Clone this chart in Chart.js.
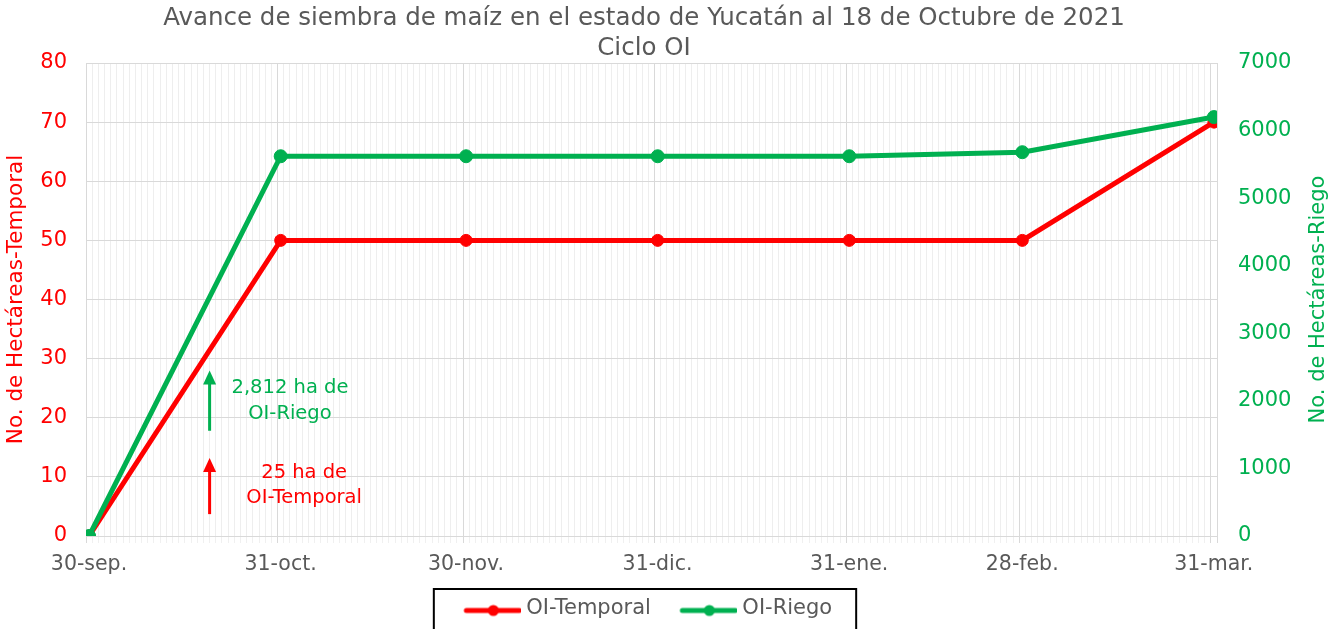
<!DOCTYPE html>
<html>
<head>
<meta charset="utf-8">
<script src="https://cdn.jsdelivr.net/npm/chart.js@4.4.0/dist/chart.umd.min.js"></script>
<style>
html, body { margin: 0; padding: 0; background: #fff; }
#wrap { width: 1342px; height: 629px; }
</style>
</head>
<body>
<div id="wrap"><canvas id="chart"></canvas></div>
<script>
// fechas del eje (dias desde el 30-sep) y valores
var dateLabels = ['30-sep.', '31-oct.', '30-nov.', '31-dic.', '31-ene.', '28-feb.', '31-mar.'];
var dayOffsets = [0, 31, 61, 92, 123, 151, 182];
var temporal = [0, 50, 50, 50, 50, 50, 70];
var riego = [0, 5620, 5620, 5620, 5620, 5680, 6200];
var leftTicks = [0, 10, 20, 30, 40, 50, 60, 70, 80];
var rightTicks = [0, 1000, 2000, 3000, 4000, 5000, 6000, 7000];

var RED = '#ff0000';
var GREEN = '#00b050';
var GRAY = '#595959';
var FONT = 'DejaVu Sans';

// notas dentro del area del grafico
var notes = [
    { color: GREEN, arrowDay: 19.5, from: 17.8, to: 28, textDay: 32.5, lines: ['2,812 ha de', 'OI-Riego'], textY: [25.1, 20.7] },
    { color: RED, arrowDay: 19.5, from: 3.7, to: 13.2, textDay: 34.8, lines: ['25 ha de', 'OI-Temporal'], textY: [10.7, 6.4] }
];
var rightTitle = 'No. de Hectáreas-Riego';

function toPoints(vals) {
    var pts = [];
    for (var i = 0; i < vals.length; i++) {
        pts.push({ x: dayOffsets[i], y: vals[i] });
    }
    return pts;
}

function isMajor(v) {
    return v <= -0.5 || v >= 182.5 || dayOffsets.indexOf(v + 0.5) >= 0;
}

// simbolo de la leyenda: linea con punto
var MARK_GAP = 21;
function legendMark(color) {
    var c = document.createElement('canvas');
    c.width = 85;
    c.height = 20;
    var g = c.getContext('2d');
    g.strokeStyle = color;
    g.lineWidth = 5;
    g.lineCap = 'round';
    g.beginPath();
    g.moveTo(30, 12);
    g.lineTo(83, 12);
    g.stroke();
    g.fillStyle = color;
    g.beginPath();
    g.arc(57, 12, 5.5, 0, Math.PI * 2);
    g.fill();
    return c;
}
var marks = [legendMark(RED), legendMark(GREEN)];

var legendFrame = {
    id: 'legendFrame',
    afterLayout: function(chart) {
        var ca = chart.chartArea;
        // el titulo va centrado un poco a la izquierda, como en el original
        if (chart.titleBlock) {
            chart.titleBlock.left -= 27;
            chart.titleBlock.right -= 27;
        }
        var lg = chart.legend;
        if (!lg || !lg.lineWidths) return;
        var pad = lg.options.labels.padding;
        var lineW = lg.lineWidths[0];
        var startX = (lg.left + pad + lg.right - lineW) / 2;
        var visW = lineW - pad - MARK_GAP;
        var want = (ca.left + ca.right) / 2 - 4 - visW / 2;
        var dx = want - (startX + MARK_GAP);
        lg.left += dx;
        lg.right += dx;
    },
    afterDraw: function(chart) {
        var lg = chart.legend;
        var hb = lg.legendHitBoxes;
        if (!hb || !hb.length) return;
        var last = hb[hb.length - 1];
        var l = hb[0].left + MARK_GAP - 29;
        var r = last.left + last.width + 24;
        var ctx = chart.ctx;
        ctx.save();
        ctx.strokeStyle = '#000';
        ctx.lineWidth = 2;
        ctx.strokeRect(l, lg.top - 2, r - l, chart.height);
        ctx.restore();
    }
};

var notesPlugin = {
    id: 'notes',
    afterDraw: function(chart) {
        var xs = chart.scales.x, ys = chart.scales.y, y1 = chart.scales.y1;
        var ctx = chart.ctx;
        ctx.save();
        notes.forEach(function(n) {
            var ax = xs.getPixelForValue(n.arrowDay);
            var y0 = ys.getPixelForValue(n.from);
            var yt = ys.getPixelForValue(n.to);
            ctx.strokeStyle = n.color;
            ctx.fillStyle = n.color;
            ctx.lineWidth = 3;
            ctx.beginPath();
            ctx.moveTo(ax, y0);
            ctx.lineTo(ax, yt + 10);
            ctx.stroke();
            ctx.beginPath();
            ctx.moveTo(ax, yt);
            ctx.lineTo(ax - 6.5, yt + 14);
            ctx.lineTo(ax + 6.5, yt + 14);
            ctx.closePath();
            ctx.fill();
            ctx.font = '19.5px "' + FONT + '"';
            ctx.textAlign = 'center';
            ctx.textBaseline = 'middle';
            var tx = xs.getPixelForValue(n.textDay);
            for (var i = 0; i < n.lines.length; i++) {
                ctx.fillText(n.lines[i], tx, ys.getPixelForValue(n.textY[i]));
            }
        });
        // titulo del eje derecho, leido de abajo hacia arriba
        ctx.translate(y1.right - 23, (chart.chartArea.top + chart.chartArea.bottom) / 2);
        ctx.rotate(-Math.PI / 2);
        ctx.fillStyle = GREEN;
        ctx.font = '21px "' + FONT + '"';
        ctx.textAlign = 'center';
        ctx.textBaseline = 'middle';
        ctx.fillText(rightTitle, 0, 0);
        ctx.restore();
    }
};

new Chart(document.getElementById('chart'), {
    type: 'line',
    data: {
        datasets: [{
            label: 'OI-Temporal',
            data: toPoints(temporal),
            yAxisID: 'y',
            borderColor: RED,
            backgroundColor: RED,
            borderWidth: 5,
            pointRadius: 6,
            pointBorderWidth: 1,
            order: 2
        }, {
            label: 'OI-Riego',
            data: toPoints(riego),
            yAxisID: 'y1',
            borderColor: GREEN,
            backgroundColor: GREEN,
            borderWidth: 5,
            pointRadius: 6.5,
            pointBorderWidth: 1,
            order: 1
        }]
    },
    options: {
        responsive: true,
        maintainAspectRatio: false,
        animation: false,
        layout: { padding: 0 },
        plugins: {
            title: {
                display: true,
                text: ['Avance de siembra de maíz en el estado de Yucatán al 18 de Octubre de 2021', 'Ciclo OI'],
                color: GRAY,
                font: { family: FONT, size: 24.5, weight: 'normal', lineHeight: 1.2 },
                padding: { top: 4.2, bottom: 0 }
            },
            legend: {
                position: 'bottom',
                labels: {
                    color: GRAY,
                    font: { family: FONT, size: 21 },
                    padding: 7,
                    usePointStyle: true,
                    pointStyleWidth: 74,
                    sort: function(a, b) { return a.datasetIndex - b.datasetIndex; },
                    generateLabels: function(chart) {
                        var items = Chart.defaults.plugins.legend.labels.generateLabels(chart);
                        items.forEach(function(it) { it.pointStyle = marks[it.datasetIndex]; });
                        return items;
                    }
                }
            },
            tooltip: { enabled: false }
        },
        scales: {
            x: {
                type: 'linear',
                min: -0.5,
                max: 182.5,
                afterBuildTicks: function(s) {
                    var t = [];
                    for (var k = 0; k <= 183; k++) t.push({ value: k - 0.5 });
                    s.ticks = t;
                },
                afterFit: function(s) { s.height = 55; },
                grid: {
                    color: function(c) { return isMajor(c.tick.value) ? '#d9d9d9' : '#eeeeee'; },
                    tickColor: function(c) { return isMajor(c.tick.value) ? '#d9d9d9' : '#f0f0f0'; },
                    tickLength: 7,
                    lineWidth: 1
                },
                border: { color: '#d9d9d9' },
                ticks: {
                    autoSkip: false,
                    maxRotation: 0,
                    labelOffset: 3,
                    padding: 9,
                    color: GRAY,
                    font: { family: FONT, size: 20.5 },
                    callback: function(v) {
                        var i = dayOffsets.indexOf(v + 0.5);
                        return i >= 0 ? dateLabels[i] : '';
                    }
                }
            },
            y: {
                position: 'left',
                min: 0,
                max: 80,
                afterBuildTicks: function(s) { s.ticks = leftTicks.map(function(v) { return { value: v }; }); },
                afterFit: function(s) { s.width = 86; },
                grid: { color: '#d9d9d9', drawTicks: false },
                border: { color: '#d9d9d9' },
                ticks: { color: RED, padding: 19, font: { family: FONT, size: 21 } },
                title: {
                    display: true,
                    text: 'No. de Hectáreas-Temporal',
                    color: RED,
                    font: { family: FONT, size: 21.5 },
                    padding: { top: 4, bottom: 0 }
                }
            },
            y1: {
                position: 'right',
                min: 0,
                max: 7000,
                afterBuildTicks: function(s) { s.ticks = rightTicks.map(function(v) { return { value: v }; }); },
                afterFit: function(s) { s.width = 125; },
                grid: { drawOnChartArea: false, drawTicks: false },
                border: { color: '#d9d9d9' },
                ticks: {
                    color: GREEN,
                    padding: 21,
                    font: { family: FONT, size: 21 },
                    callback: function(v) { return String(v); }
                }
            }
        }
    },
    plugins: [legendFrame, notesPlugin]
});
</script>
</body>
</html>
